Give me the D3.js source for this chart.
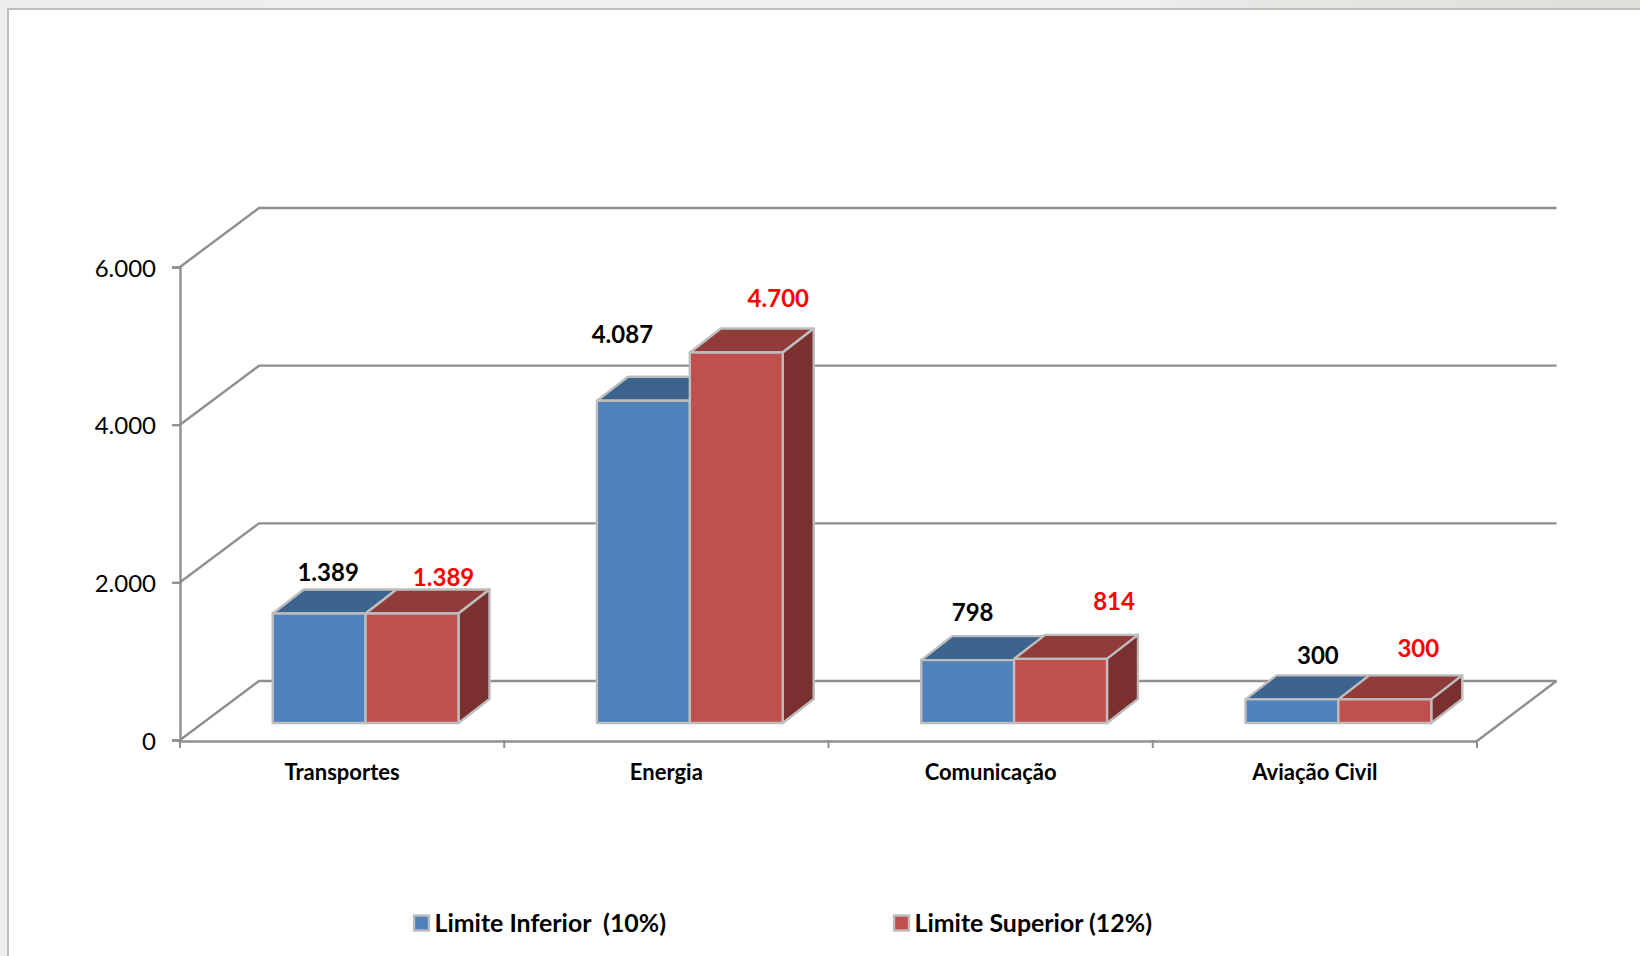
<!DOCTYPE html>
<html><head><meta charset="utf-8">
<style>
html,body{margin:0;padding:0;background:#fff}
svg{display:block}
text{font-family:Lato,"Open Sans",sans-serif}
</style>
<script src="https://cdn.jsdelivr.net/npm/d3@7"></script>
</head><body>
<svg id="chart" width="1640" height="956"></svg>
<script>
const categories = ["Transportes","Energia","Comunicação","Aviação Civil"];
const seriesNames = ["Limite Inferior  (10%)","Limite Superior (12%)"];
const limiteInferior = [1389,4087,798,300];
const limiteSuperior = [1389,4700,814,300];
const yTicks = [0,2000,4000,6000];

// manual data-label offsets (layout only), from the bar's front-top centre
const inferiorLabelDx = [9,-21,5,26],  inferiorLabelDy = [-40.5,-66,-47.5,-44];
const superiorLabelDx = [31.5,42,53.5,33.5],   superiorLabelDy = [-36,-53.5,-57,-51];

const colors = {
  front:["#4f81bd","#c0504d"], top:["#3d638f","#8f3c3a"], side:["#3a5f8c","#7a302f"],
  grid:"#8f8f8f", edge:"#bdbdbd"
};
const svg = d3.select("#chart");
const left=180, right=1477, y0=740, yTop=267, depthX=79, depthY=59;
const barDepthX=31, barDepthY=24, barBase=723;

// page frame
const defs = svg.append("defs");
const g = defs.append("linearGradient").attr("id","chrome").attr("x1",0).attr("x2",1).attr("y1",0).attr("y2",0);
[[0,"#eeeeed"],[0.7,"#f1efef"],[0.74,"#e9e8e6"],[1,"#dfdeda"]].forEach(s=>g.append("stop").attr("offset",s[0]).attr("stop-color",s[1]));
svg.append("rect").attr("width",1640).attr("height",956).attr("fill","#eeeeed");
svg.append("rect").attr("width",1640).attr("height",9).attr("fill","url(#chrome)");
svg.append("rect").attr("x",7).attr("y",8).attr("width",1633).attr("height",948).attr("fill","#bdbdbd");
svg.append("rect").attr("x",9).attr("y",10).attr("width",1631).attr("height",946).attr("fill","#fff");

const x = d3.scaleBand().domain(categories).range([left,right]);
const y = d3.scaleLinear().domain([0,6000]).range([y0,yTop]);
const series = d3.scaleBand().domain([0,1]).range([92.7,278.5]);
const h = v => y0 - y(v);

// walls and floor
const grid = svg.append("g").attr("fill","none").attr("stroke",colors.grid).attr("stroke-width",2.4);
grid.selectAll("path").data(yTicks).join("path")
  .attr("d",t=>`M${left},${y(t)}L${left+depthX},${y(t)-depthY}L${right+depthX+0.5},${y(t)-depthY}`);
grid.append("path").attr("d",`M${right+depthX+0.5},${y0-depthY}L${right},${y0+1}`);

// axes
const fmt = d3.formatLocale({decimal:",",thousands:".",grouping:[3],currency:["",""]}).format(",");
const yAxis = svg.append("g").attr("transform",`translate(${left},0)`)
  .call(d3.axisLeft(y).tickValues(yTicks).tickFormat(fmt).tickSize(8).tickPadding(16));
yAxis.selectAll("path,line").attr("stroke",colors.grid).attr("stroke-width",2.4);
yAxis.selectAll("text").attr("font-size",24).attr("fill","#000").attr("transform","translate(0,1.5)");

const xAxis = svg.append("g").attr("transform",`translate(0,${y0+1})`)
  .call(d3.axisBottom(x).tickSize(0).tickPadding(23));
xAxis.select("path").attr("stroke",colors.grid).attr("stroke-width",2.4);
xAxis.selectAll("text").attr("font-size",22).attr("font-weight",700).attr("fill","#000");
svg.append("g").selectAll("line").data(d3.range(categories.length+1)).join("line")
  .attr("x1",i=>left+x.step()*i).attr("x2",i=>left+x.step()*i)
  .attr("y1",y0).attr("y2",y0+8).attr("stroke",colors.grid).attr("stroke-width",2);

// bars
const bars = categories.flatMap((c,i)=>[limiteInferior[i],limiteSuperior[i]].map((v,s)=>({c,i,s,v})));
const barX = d => x(d.c)+series(d.s), w = series.bandwidth();
const B = svg.append("g").attr("stroke",colors.edge).attr("stroke-width",2.4).attr("stroke-linejoin","round");
bars.forEach(d=>{
  const X=barX(d), T=barBase-h(d.v);
  const gb=B.append("g").datum(d);
  gb.append("path").attr("fill",colors.top[d.s])
    .attr("d",`M${X},${T}l${barDepthX},${-barDepthY}h${w}l${-barDepthX},${barDepthY}z`);
  if(d.s===1) gb.append("path").attr("fill",colors.side[1])
    .attr("d",`M${X+w},${T}l${barDepthX},${-barDepthY}V${barBase-barDepthY}l${-barDepthX},${barDepthY}z`);
  gb.append("rect").attr("x",X).attr("y",T).attr("width",w).attr("height",h(d.v)).attr("fill",colors.front[d.s]);
});

// data labels
svg.append("g").selectAll("text").data(bars).join("text")
  .attr("x",d=>barX(d)+w/2+(d.s?superiorLabelDx:inferiorLabelDx)[d.i])
  .attr("y",d=>barBase-h(d.v)+(d.s?superiorLabelDy:inferiorLabelDy)[d.i])
  .attr("dy","0.35em").attr("text-anchor","middle").attr("font-size",24).attr("font-weight",700)
  .attr("fill",d=>d.s?"#ff0000":"#000").text(d=>fmt(d.v));

// legend
const legendX=[413,893];
const L = svg.append("g").selectAll("g").data(seriesNames).join("g")
  .attr("transform",(d,i)=>`translate(${legendX[i]},923)`);
L.append("rect").attr("x",1).attr("y",-7.5).attr("width",15).attr("height",15)
  .attr("fill",(d,i)=>colors.front[i]).attr("stroke",colors.edge).attr("stroke-width",2.4);
L.append("text").attr("x",21.5).attr("dy","0.35em").attr("font-size",24.9).attr("font-weight",700)
  .attr("fill","#000").style("white-space","pre").text(d=>d);
</script>
</body></html>
